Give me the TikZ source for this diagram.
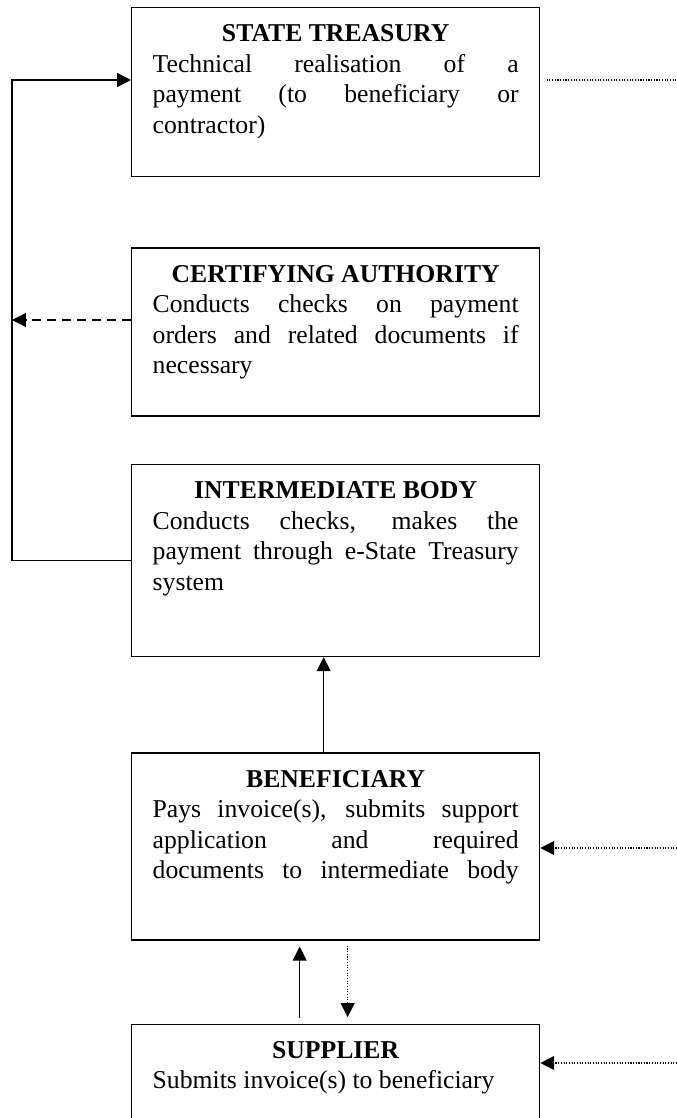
\documentclass[tikz,border=0pt]{standalone}
\usepackage{fontspec}
\setmainfont{Liberation Serif}
\usetikzlibrary{positioning,arrows.meta}
\newcommand{\jline}[1]{\makebox[\linewidth][s]{#1}}
\newcommand{\boxtext}[3]{\parbox[t][#1][t]{170.9pt}{%
\makebox[\linewidth]{\rule{0pt}{15.9pt}\textbf{#2}}\par #3}}

\begin{document}
\begin{tikzpicture}[
x=0.467pt,y=-0.467pt,
box/.style={rectangle,draw,line width=0.65pt,inner xsep=9.8pt,inner ysep=0pt,
font=\fontsize{12}{14.3}\selectfont},
arrow/.style={-{Triangle[length=6.5pt,width=6.5pt]},line width=0.6pt},
dasharrow/.style={arrow,dash pattern=on 4pt off 3pt},
dotarrow/.style={arrow,dash pattern=on 0.5pt off 0.75pt},
dotline/.style={line width=0.6pt,dash pattern=on 0.5pt off 0.75pt}
]
\useasboundingbox (0,0) rectangle (677,1118);
\clip (0,0) rectangle (677,1118);
\node[box,anchor=north west] (st) at (131,7) {\boxtext{78.9pt}{STATE TREASURY}{%
\jline{Technical realisation of a}\par
\jline{payment (to beneficiary or}\par
contractor)}};
\node[box,below=32.7pt of st] (ca) {\boxtext{78.5pt}{CERTIFYING AUTHORITY}{%
\jline{Conducts checks on payment}\par
\jline{orders and related documents if}\par
necessary}};
\node[box,below=21.9pt of ca] (ib) {\boxtext{89.7pt}{INTERMEDIATE BODY}{%
\jline{Conducts checks, makes the}\par
\jline{payment through e-State Treasury}\par
system}};
\node[box,below=44.4pt of ib] (ben) {\boxtext{87.3pt}{BENEFICIARY}{%
\jline{Pays invoice(s), submits support}\par
\jline{application and required}\par
\jline{documents to intermediate body}}};
\node[box,below=38.7pt of ben] (sup) {\boxtext{60.7pt}{SUPPLIER}{%
Submits invoice(s) to beneficiary}};
\coordinate (lft) at (12,0);
\coordinate (rim) at (677,0);
\draw[arrow] (ib.west) -- (ib.west -| lft) -- (lft |- 0,80) -- (st.west |- 0,80);
\draw[dasharrow] (ca.west |- 0,320) -- (lft |- 0,320);
\draw[dotline] ([xshift=3pt]st.east |- 0,80) -- (rim |- 0,80);
\draw[dotarrow] (rim |- 0,848) -- (ben.east |- 0,848);
\draw[dotarrow] (rim |- 0,1063) -- (sup.east |- 0,1063);
\draw[arrow] ([xshift=-5.6pt]ben.north) -- ([xshift=-5.6pt]ib.south);
\draw[arrow,shorten <=2.8pt,shorten >=2.8pt] ([xshift=-16.8pt]sup.north) -- ([xshift=-16.8pt]ben.south);
\draw[dotarrow,shorten <=2.4pt,shorten >=3pt] ([xshift=5.6pt]ben.south) -- ([xshift=5.6pt]sup.north);
\end{tikzpicture}
\end{document}
